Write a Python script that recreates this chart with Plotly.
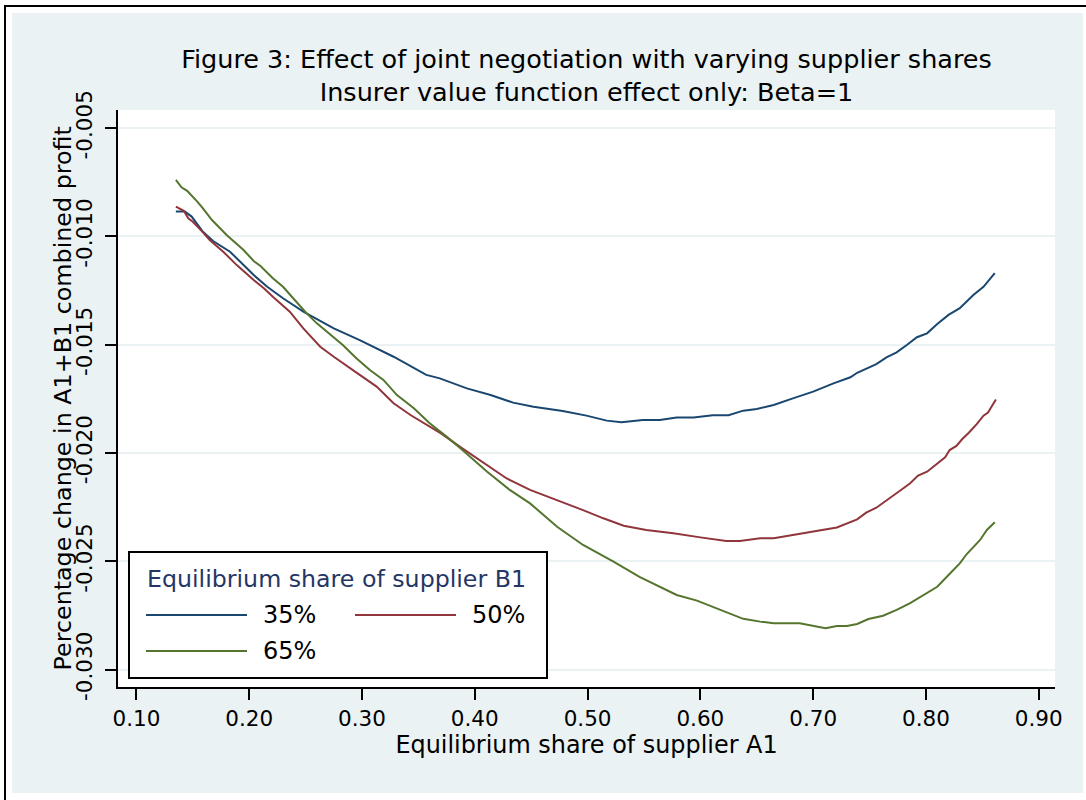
import plotly.graph_objects as go

# ---------------- data ----------------
x_35 = [0.135, 0.143, 0.149, 0.159, 0.168, 0.183, 0.204, 0.216, 0.230, 0.248, 0.275, 0.298,
        0.328, 0.357, 0.369, 0.387, 0.393, 0.414, 0.434, 0.452, 0.478, 0.499, 0.517, 0.530,
        0.549, 0.564, 0.579, 0.594, 0.611, 0.625, 0.638, 0.650, 0.665, 0.682, 0.700, 0.718,
        0.733, 0.739, 0.756, 0.765, 0.774, 0.783, 0.792, 0.801, 0.810, 0.820, 0.830, 0.842,
        0.851, 0.861]
y_35 = [-0.00886, -0.00886, -0.00909, -0.00979, -0.01022, -0.01071, -0.01179, -0.01233,
        -0.01286, -0.01348, -0.01425, -0.01479, -0.01556, -0.01640, -0.01656, -0.01691,
        -0.01702, -0.01733, -0.01768, -0.01787, -0.01807, -0.01828, -0.01851, -0.01859,
        -0.01848, -0.01848, -0.01837, -0.01837, -0.01826, -0.01826, -0.01805, -0.01797,
        -0.01779, -0.01748, -0.01717, -0.01679, -0.01651, -0.01630, -0.01590, -0.01559,
        -0.01536, -0.01502, -0.01466, -0.01448, -0.01405, -0.01363, -0.01332, -0.01271,
        -0.01233, -0.01170]

x_50 = [0.135, 0.142, 0.146, 0.150, 0.158, 0.165, 0.177, 0.183, 0.189, 0.204, 0.213, 0.221,
        0.236, 0.248, 0.263, 0.275, 0.283, 0.298, 0.313, 0.328, 0.343, 0.357, 0.370, 0.387,
        0.408, 0.428, 0.449, 0.473, 0.496, 0.514, 0.532, 0.552, 0.576, 0.600, 0.623, 0.635,
        0.653, 0.665, 0.688, 0.706, 0.721, 0.739, 0.747, 0.756, 0.768, 0.780, 0.786, 0.793,
        0.801, 0.810, 0.817, 0.821, 0.827, 0.832, 0.838, 0.845, 0.851, 0.855, 0.862]
y_50 = [-0.00863, -0.00882, -0.00917, -0.00933, -0.00976, -0.01017, -0.01071, -0.01102,
        -0.01133, -0.01202, -0.01240, -0.01279, -0.01348, -0.01425, -0.01510, -0.01556,
        -0.01586, -0.01640, -0.01694, -0.01771, -0.01825, -0.01871, -0.01910, -0.01972,
        -0.02048, -0.02117, -0.02171, -0.02217, -0.02264, -0.02302, -0.02336, -0.02356,
        -0.02371, -0.02390, -0.02407, -0.02407, -0.02394, -0.02394, -0.02374, -0.02359,
        -0.02344, -0.02307, -0.02276, -0.02253, -0.02210, -0.02163, -0.02140, -0.02105,
        -0.02087, -0.02048, -0.02020, -0.01987, -0.01968, -0.01937, -0.01907, -0.01867,
        -0.01828, -0.01814, -0.01753]

x_65 = [0.135, 0.140, 0.145, 0.148, 0.154, 0.159, 0.167, 0.180, 0.195, 0.204, 0.210, 0.221,
        0.230, 0.239, 0.251, 0.260, 0.269, 0.283, 0.295, 0.307, 0.319, 0.331, 0.346, 0.360,
        0.375, 0.387, 0.411, 0.431, 0.449, 0.473, 0.496, 0.523, 0.546, 0.561, 0.579, 0.597,
        0.614, 0.626, 0.638, 0.653, 0.665, 0.688, 0.711, 0.721, 0.730, 0.739, 0.749, 0.762,
        0.774, 0.786, 0.798, 0.810, 0.820, 0.830, 0.836, 0.848, 0.854, 0.861]
y_65 = [-0.00740, -0.00774, -0.00790, -0.00806, -0.00840, -0.00871, -0.00925, -0.00994,
        -0.01063, -0.01114, -0.01137, -0.01194, -0.01233, -0.01286, -0.01356, -0.01402,
        -0.01440, -0.01502, -0.01563, -0.01617, -0.01663, -0.01733, -0.01794, -0.01863,
        -0.01925, -0.01977, -0.02087, -0.02171, -0.02233, -0.02341, -0.02425, -0.02502,
        -0.02572, -0.02610, -0.02656, -0.02682, -0.02717, -0.02738, -0.02766, -0.02779,
        -0.02787, -0.02787, -0.02810, -0.02799, -0.02799, -0.02790, -0.02767, -0.02752,
        -0.02725, -0.02694, -0.02656, -0.02618, -0.02564, -0.02510, -0.02468, -0.02402,
        -0.02356, -0.02320]

series_names = ["35%", "50%", "65%"]
series_colors = ["#1a476f", "#90353b", "#55752f"]

x_ticks = [0.10, 0.20, 0.30, 0.40, 0.50, 0.60, 0.70, 0.80, 0.90]
x_tick_labels = ["0.10", "0.20", "0.30", "0.40", "0.50", "0.60", "0.70", "0.80", "0.90"]
y_ticks = [-0.005, -0.010, -0.015, -0.020, -0.025, -0.030]
y_tick_labels = ["-0.005", "-0.010", "-0.015", "-0.020", "-0.025", "-0.030"]

title_line1 = "Figure 3: Effect of joint negotiation with varying supplier shares"
title_line2 = "Insurer value function effect only: Beta=1"
x_title = "Equilibrium share of supplier A1"
y_title = "Percentage change in A1+B1 combined profit"
legend_title = "Equilibrium share of supplier B1"

# ---------------- layout geometry (pixels) ----------------
W, H = 1086, 800
PL, PR, PT, PB = 118, 1055, 110, 687
FONT = "DejaVu Sans"
BG = "#EAF2F3"


def px(xp):
    return (xp - PL) / (PR - PL)


def py(yp):
    return (PB - yp) / (PB - PT)


fig = go.Figure()
for xs, ys, name, col in zip([x_35, x_50, x_65], [y_35, y_50, y_65], series_names, series_colors):
    fig.add_trace(go.Scatter(x=xs, y=ys, mode="lines", name=name,
                             line=dict(color=col, width=2), showlegend=False))

shapes = [
    # graph region background
    dict(type="rect", xref="paper", yref="paper", x0=px(12), x1=px(1083), y0=py(793), y1=py(13),
         fillcolor=BG, line=dict(width=0), layer="below"),
    # plot region
    dict(type="rect", xref="paper", yref="paper", x0=0, x1=1, y0=0, y1=1,
         fillcolor="white", line=dict(width=0), layer="below"),
    # outer frame lines
    dict(type="line", xref="paper", yref="paper", x0=px(4), x1=px(1090), y0=py(6), y1=py(6),
         line=dict(color="black", width=2)),
    dict(type="line", xref="paper", yref="paper", x0=px(5), x1=px(5), y0=py(5), y1=py(805),
         line=dict(color="black", width=2)),
    # legend box
    dict(type="rect", xref="paper", yref="paper", x0=px(129), x1=px(547), y0=py(678), y1=py(552),
         fillcolor="white", line=dict(color="black", width=2), layer="above"),
]
annotations = [
    dict(text=y_title, xref="paper", yref="paper", x=px(62), y=0.5, xanchor="center",
         yanchor="middle", textangle=-90, showarrow=False,
         font=dict(family=FONT, size=23.8, color="black")),
    dict(text=legend_title, xref="paper", yref="paper", x=px(336), y=py(579), xanchor="center",
         yanchor="middle", showarrow=False, font=dict(family=FONT, size=23.7, color="#243665")),
]
legend_pos = [(146, 615), (355, 615), (146, 651)]
for (lx, ly), name, col in zip(legend_pos, series_names, series_colors):
    shapes.append(dict(type="line", xref="paper", yref="paper", x0=px(lx), x1=px(lx + 101),
                       y0=py(ly), y1=py(ly), line=dict(color=col, width=2), layer="above"))
    annotations.append(dict(text=name, xref="paper", yref="paper", x=px(lx + 115), y=py(ly),
                            xanchor="left", yanchor="middle", showarrow=False,
                            font=dict(family=FONT, size=24, color="black")))

fig.update_layout(
    width=W, height=H,
    margin=dict(l=PL, r=W - PR, t=PT, b=H - PB, pad=0),
    paper_bgcolor="white", plot_bgcolor="white",
    font=dict(family=FONT, color="black"),
    title=dict(text=title_line1 + "<br>" + title_line2, x=0.5, xref="paper", xanchor="center",
               y=1 - 68 / H, yref="container", yanchor="middle",
               font=dict(family=FONT, size=25.5, color="black")),
    shapes=shapes, annotations=annotations,
    showlegend=False,
)
fig.update_xaxes(
    range=[0.0837, 0.9144], tickvals=x_ticks, ticktext=x_tick_labels,
    ticks="outside", ticklen=11, tickwidth=2, tickcolor="black",
    showline=True, linecolor="black", linewidth=2, showgrid=False, zeroline=False,
    tickfont=dict(family=FONT, size=21.5, color="black"),
    title=dict(text=x_title, font=dict(family=FONT, size=23.9, color="black"), standoff=4),
)
fig.update_yaxes(
    range=[-0.030808, -0.004169], tickvals=y_ticks, ticktext=y_tick_labels, tickangle=-90,
    ticks="outside", ticklen=11, tickwidth=2, tickcolor="black", ticklabelstandoff=4,
    showline=True, linecolor="black", linewidth=2,
    showgrid=True, gridcolor=BG, gridwidth=2, zeroline=False,
    tickfont=dict(family=FONT, size=21.5, color="black"),
)

fig.write_html("out.html", config={"displayModeBar": False},
               post_script="document.body.style.margin='0px';document.body.style.overflow='hidden';")
